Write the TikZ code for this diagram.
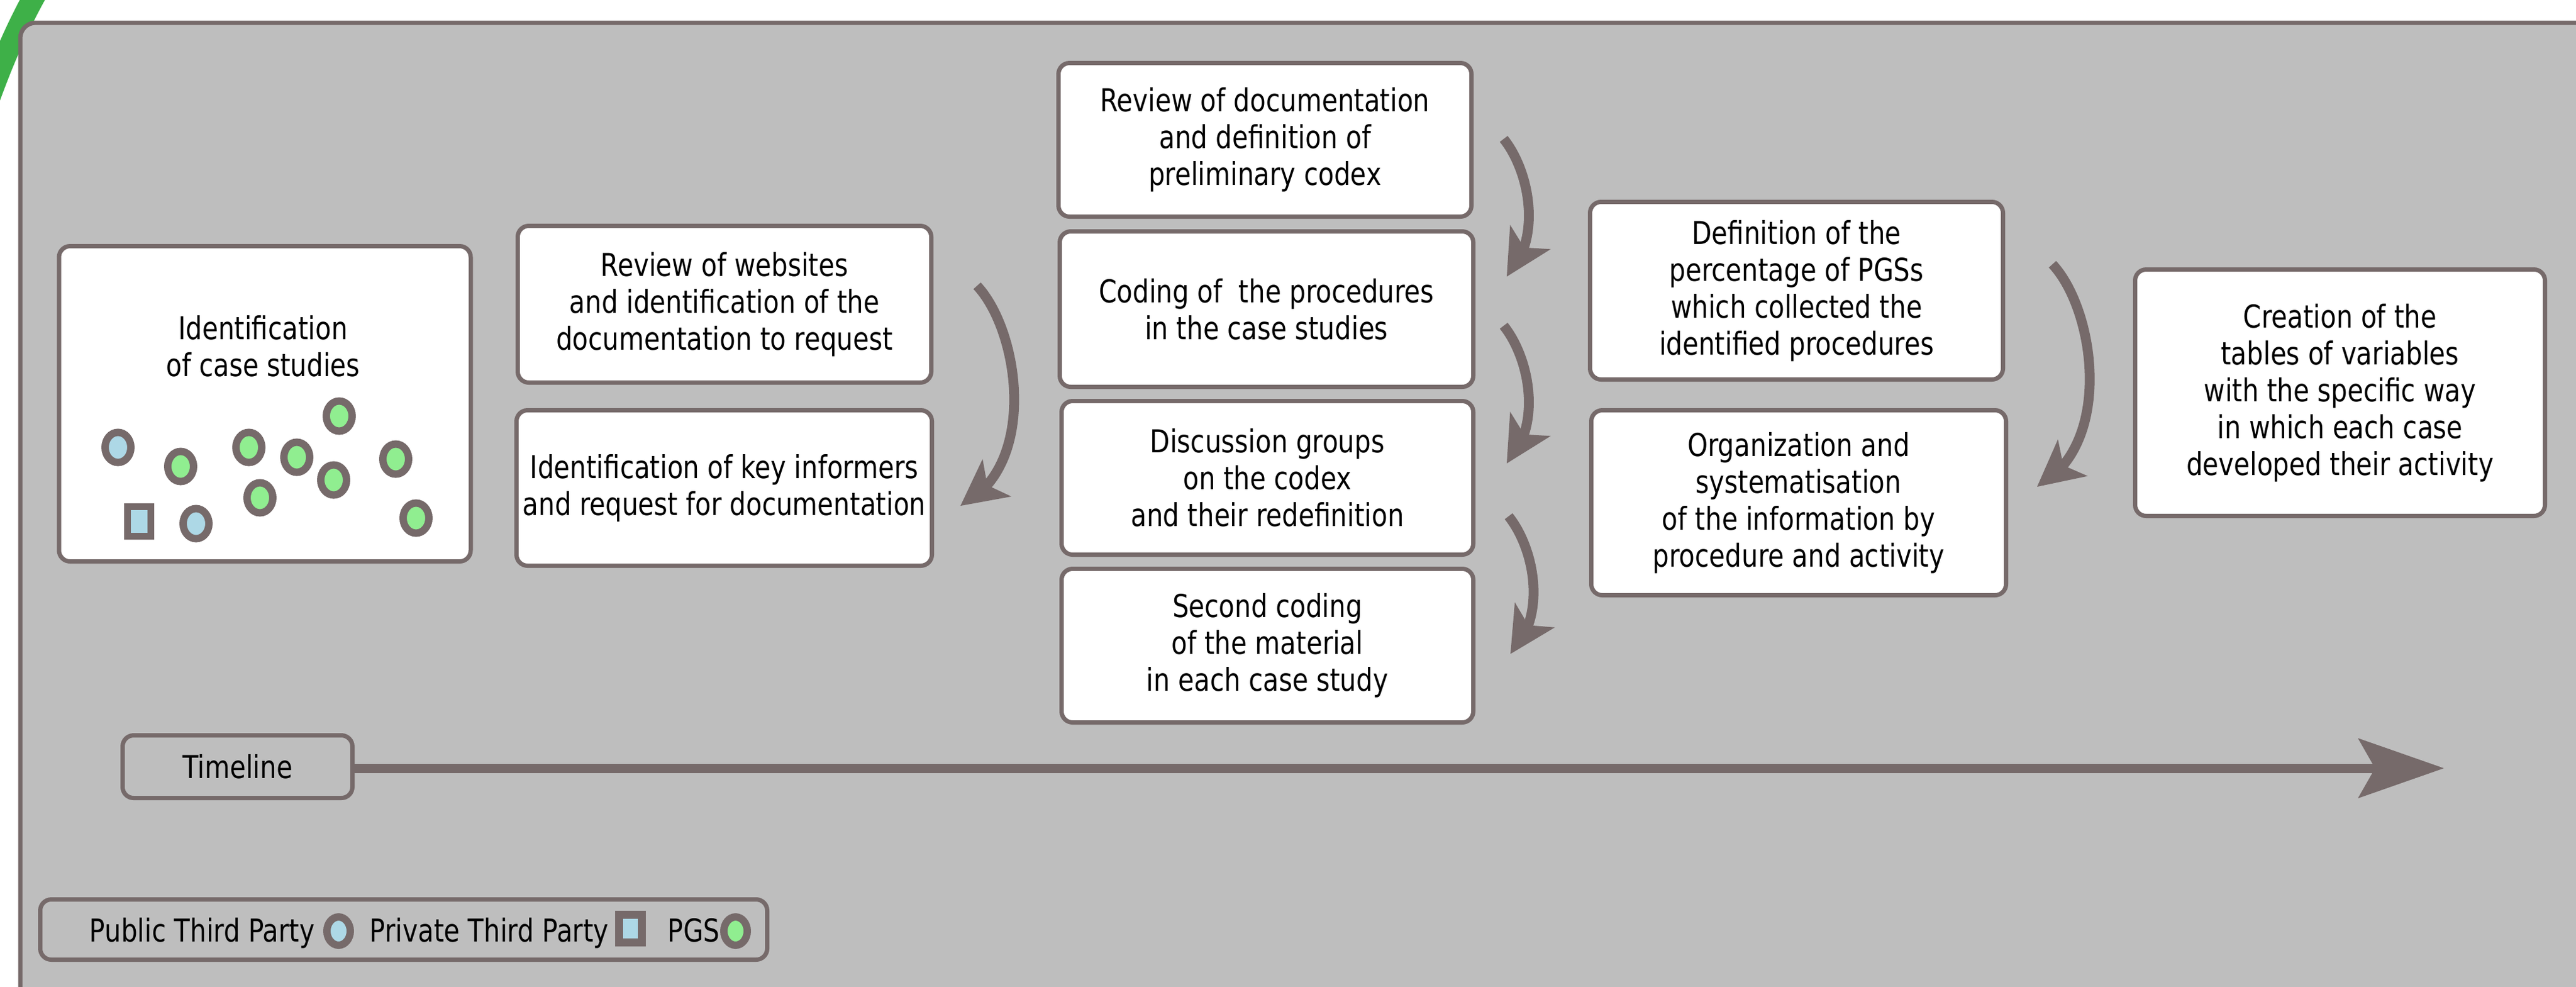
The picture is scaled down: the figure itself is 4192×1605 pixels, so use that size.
\documentclass[tikz,border=0pt]{standalone}
\usepackage{fontspec}
\setmainfont{DejaVu Sans}[FakeStretch=0.82]
\usetikzlibrary{shapes.geometric,arrows.meta,bending}
\definecolor{bord}{RGB}{118,106,106}
\definecolor{bgray}{RGB}{190,190,190}
\definecolor{pubfill}{RGB}{173,216,230}
\definecolor{pgsfill}{RGB}{144,238,144}
\definecolor{arcgreen}{RGB}{62,176,72}
\begin{document}
\begin{tikzpicture}[x=0.1mm,y=-0.1mm,
  every node/.style={font=\fontsize{14.6}{17.07}\selectfont, text=black},
  stepbox/.style={draw=bord, fill=white, line width=0.7mm, rounded corners=1.8mm, align=center, inner sep=0pt},
  plainbox/.style={draw=bord, line width=0.7mm, rounded corners=1.8mm, align=center, inner sep=0pt},
  pubc/.style={ellipse, draw=bord, fill=pubfill, line width=1.2mm, minimum width=4.2mm, minimum height=4.9mm, inner sep=0pt},
  pgsc/.style={ellipse, draw=bord, fill=pgsfill, line width=1.2mm, minimum width=4.2mm, minimum height=4.9mm, inner sep=0pt},
  privsq/.style={rectangle, draw=bord, fill=pubfill, line width=1.1mm, minimum width=3.8mm, minimum height=4.8mm, inner sep=0pt},
  flow/.style={draw=bord, line width=1.6mm, -{Stealth[length=7.5mm,width=7.7mm,inset=2mm,line width=0pt]}},
  timearrow/.style={draw=bord, line width=1.5mm, -{Stealth[length=14mm,width=9.8mm,inset=2.8mm,line width=0pt]}}
]
\useasboundingbox (0,0) rectangle (4192,1605);
\clip (0,0) rectangle (4192,1605);
\fill[white] (0,0) rectangle (4192,1605);
% green arc in the corner
\draw[arcgreen, line width=3.6mm] (75,-40) .. controls (40,20) and (10,80) .. (-25,180);
% main frame
\draw[draw=bord, fill=bgray, line width=0.7mm, rounded corners=2.5mm] (33,37) rectangle (4400,1800);

% case studies box
\node[stepbox, minimum width=67mm, minimum height=51.3mm] (cases) at (431,657) {};
\node[align=center] (casestxt) at (428,563) {Identification\\ of case studies};
\node[pubc] (m1) at (192,728) {};
\node[pgsc] (m2) at (294,759) {};
\node[pgsc] (m3) at (405,728) {};
\node[pgsc] (m4) at (483,744) {};
\node[pgsc] (m5) at (552,677) {};
\node[pgsc] (m6) at (543,781) {};
\node[pgsc] (m7) at (644,747) {};
\node[pgsc] (m8) at (423,810) {};
\node[pubc] (m9) at (319,852) {};
\node[pgsc] (m10) at (677,843) {};
\node[privsq] (m11) at (226,848) {};

% step boxes
\node[stepbox, minimum width=67.3mm, minimum height=25.5mm] (web) at (1179,495) {Review of websites\\and identification of the\\documentation to request};
\node[stepbox, minimum width=67.6mm, minimum height=25.3mm] (inf) at (1178.5,794) {Identification of key informers\\and request for documentation};
\node[stepbox, minimum width=67.2mm, minimum height=25mm] (rev) at (2058.5,227.5) {Review of documentation\\and definition of\\preliminary codex};
\node[stepbox, minimum width=67.3mm, minimum height=25.3mm] (cod) at (2061,503) {Coding of\ \ the procedures\\in the case studies};
\node[stepbox, minimum width=67mm, minimum height=25mm] (dis) at (2062.5,777.5) {Discussion groups\\on the codex\\and their redefinition};
\node[stepbox, minimum width=67mm, minimum height=25mm] (sec) at (2062.5,1050.5) {Second coding\\of the material\\in each case study};
\node[stepbox, minimum width=67.2mm, minimum height=28.9mm] (def) at (2923.5,473) {Definition of the\\percentage of PGSs\\which collected the\\identified procedures};
\node[stepbox, minimum width=67.5mm, minimum height=30.1mm] (org) at (2927,818) {Organization and\\systematisation\\of the information by\\procedure and activity};
\node[stepbox, minimum width=66.7mm, minimum height=40.1mm] (cre) at (3808,639) {Creation of the\\tables of variables\\with the specific way\\in which each case\\developed their activity};

% curved arrows
\coordinate (a1s) at (1590,465); \coordinate (a1e) at (1563,823);
\coordinate (a2s) at (2447,226); \coordinate (a2e) at (2452,450);
\coordinate (a3s) at (2447,530); \coordinate (a3e) at (2452,754);
\coordinate (a4s) at (2455,840); \coordinate (a4e) at (2458,1064);
\coordinate (a5s) at (3340,430); \coordinate (a5e) at (3315,792);
\draw[flow] (a1s) .. controls (1660,540) and (1690,760) .. (a1e);
\draw[flow] (a2s) .. controls (2490,280) and (2510,390) .. (a2e);
\draw[flow] (a3s) .. controls (2490,584) and (2510,694) .. (a3e);
\draw[flow] (a4s) .. controls (2498,894) and (2518,1004) .. (a4e);
\draw[flow] (a5s) .. controls (3410,505) and (3440,725) .. (a5e);

% timeline
\node[plainbox, minimum width=37.4mm, minimum height=10.2mm] (tl) at (386.5,1247.5) {Timeline};
\coordinate (tlend) at (3977,1250);
\draw[timearrow] (tl.east |- tlend) -- (tlend);

% legend
\node[plainbox, minimum width=118.3mm, minimum height=9.8mm] (leg) at (657,1512.5) {};
\node[anchor=base west, inner sep=0pt] (lpub) at (145,1532) {Public Third Party};
\node[pubc, minimum width=3.8mm, minimum height=4.6mm] (lpubm) at (551,1515) {};
\node[anchor=base west, inner sep=0pt] (lpriv) at (601,1532) {Private Third Party};
\node[privsq, line width=1.3mm, minimum width=3.7mm, minimum height=4.5mm] (lprivm) at (1026,1511) {};
\node[anchor=base west, inner sep=0pt] (lpgs) at (1086,1532) {PGS};
\node[pgsc, minimum width=3.8mm, minimum height=4.6mm] (lpgsm) at (1197,1515) {};
\end{tikzpicture}
\end{document}
